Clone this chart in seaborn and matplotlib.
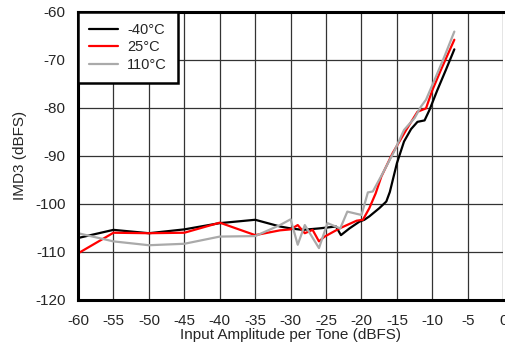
import matplotlib
matplotlib.use("Agg")
import matplotlib.pyplot as plt
import numpy as np
import pandas as pd
import seaborn as sns

# IMD3 vs input amplitude
x_m40 = [-60, -55, -50, -45, -40, -35, -31.5, -30, -28.3, -26, -23.6, -22.9, -21.7,
         -20.3, -19.6, -18.9, -17.5, -16.5, -16.0, -15.0, -14.0, -13.0, -12.1, -11.1,
         -10.4, -9.3, -8.1, -6.9]
y_m40 = [-107.1, -105.4, -106.1, -105.3, -104.0, -103.3, -104.7, -105.1, -105.4, -105.1,
         -104.7, -106.5, -105.1, -103.7, -103.3, -102.6, -100.9, -99.5, -97.5, -91.5,
         -87.0, -84.4, -82.9, -82.6, -80.4, -76.3, -72.1, -67.8]

x_25 = [-60, -55, -50, -45, -40, -35, -31.5, -30, -29, -28, -26.9, -26, -25.2, -23.1,
        -20.7, -19.8, -18.9, -18, -17.2, -15.6, -13.7, -12.1, -10.9, -10, -8.8, -6.9]
y_25 = [-110.3, -106.0, -106.1, -106.0, -103.9, -106.5, -105.5, -105.3, -104.4, -106.1,
        -105.4, -107.8, -106.8, -105.1, -103.5, -103.3, -100.9, -97.8, -94.3, -89.4,
        -84.6, -80.8, -80.1, -76.3, -72.1, -65.8]

x_110 = [-60, -55, -50, -45, -40, -35, -31.5, -30, -29, -28, -26, -24.8, -23, -22, -20,
         -19.1, -18.4, -17, -15.4, -14, -12.5, -11.6, -10.9, -9.5, -8.3, -6.9]
y_110 = [-106.1, -107.8, -108.6, -108.3, -106.8, -106.7, -104.4, -103.2, -108.5, -104.4,
         -109.2, -104.0, -105.1, -101.6, -102.3, -97.6, -97.4, -93.6, -89.1, -84.6,
         -82.1, -79.7, -78.3, -73.5, -69.3, -64.1]

labels = ["-40°C", "25°C", "110°C"]
colors = ["#000000", "#ff0000", "#aaaaaa"]

df = pd.concat([
    pd.DataFrame({"x": x_m40, "y": y_m40, "temp": labels[0]}),
    pd.DataFrame({"x": x_25, "y": y_25, "temp": labels[1]}),
    pd.DataFrame({"x": x_110, "y": y_110, "temp": labels[2]}),
])

sns.set_style("white")
plt.rcParams["font.family"] = ["Liberation Sans", "DejaVu Sans"]
plt.rcParams["axes.unicode_minus"] = False

fig = plt.figure(figsize=(5.05, 3.5), dpi=100)
ax = fig.add_axes([0.1545, 0.143, 0.842, 0.823])

sns.lineplot(data=df, x="x", y="y", hue="temp", palette=dict(zip(labels, colors)),
             sort=False, estimator=None, linewidth=1.6, ax=ax)

ax.set_xlim(-60, 0)
ax.set_ylim(-120, -60)
ax.set_xticks(np.arange(-60, 1, 5))
ax.set_yticks(np.arange(-120, -59, 10))
ax.grid(True, color="#333333", linewidth=0.9)
ax.set_axisbelow(True)
for s in ["left", "top", "bottom"]:
    ax.spines[s].set_linewidth(2.2)
    ax.spines[s].set_color("black")
ax.spines["right"].set_visible(False)
ax.tick_params(axis="x", labelsize=11, length=0, pad=10)
ax.tick_params(axis="y", labelsize=11, length=0, pad=9)
ax.set_xlabel("Input Amplitude per Tone (dBFS)", fontsize=11, labelpad=0)
ax.set_ylabel("IMD3 (dBFS)", fontsize=11, labelpad=6)

leg = ax.legend(loc="upper left", borderaxespad=0, fancybox=False, fontsize=10.5,
                handlelength=2.0, labelspacing=0.25, borderpad=0.75, handletextpad=0.6)
leg.get_frame().set_edgecolor("black")
leg.get_frame().set_linewidth(1.8)
leg.get_frame().set_alpha(1)

fig.savefig("out.png", dpi=100)
